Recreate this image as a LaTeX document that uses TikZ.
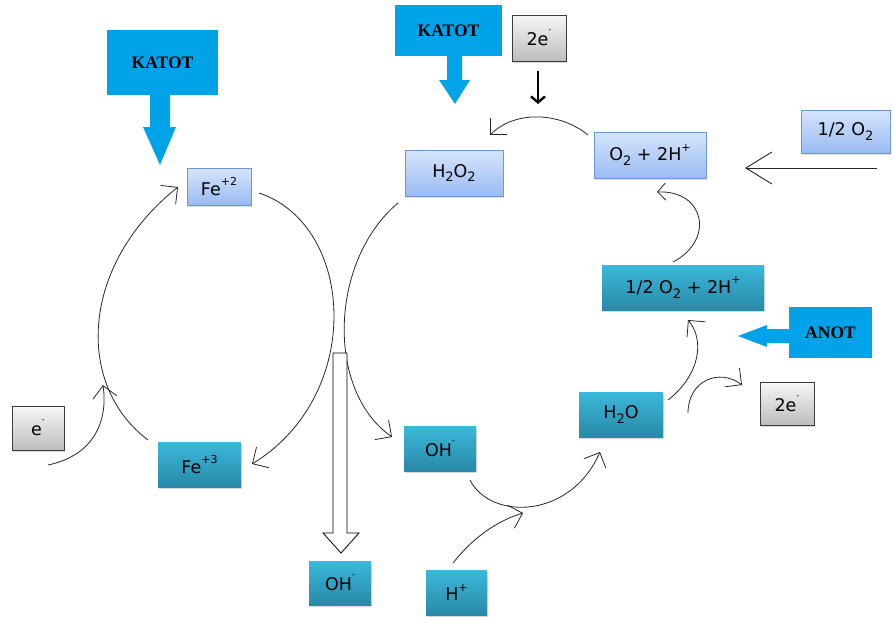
\documentclass[tikz,border=0pt]{standalone}
\usepackage{fontspec}
\setmainfont{DejaVu Sans}
\newfontfamily\katfont{Liberation Serif}
\usetikzlibrary{arrows.meta,shadows}
\definecolor{lbtop}{HTML}{D6E5FC}
\definecolor{lbbot}{HTML}{99BBF2}
\definecolor{lbline}{HTML}{6C95DA}
\definecolor{tltop}{HTML}{3CB8DA}
\definecolor{tlbot}{HTML}{2989A8}
\definecolor{grtop}{HTML}{F7F7F7}
\definecolor{grbot}{HTML}{BDBDBD}
\definecolor{grline}{HTML}{3C3C3C}
\definecolor{katblue}{HTML}{00A2E8}
\newcommand\sbs[1]{\raisebox{-0.28em}{\fontsize{13}{13}\selectfont #1}}
\newcommand\sps[1]{\raisebox{0.55em}{\fontsize{11}{11}\selectfont #1}}
\newcommand\tsp[1]{\raisebox{0.75em}{\fontsize{8}{8}\selectfont #1}}
\begin{document}
\begin{tikzpicture}[x=1pt,y=-1pt,
  base/.style={inner sep=0pt, align=center, font=\fontsize{17.5}{17.5}\selectfont},
  lightbox/.style={base, draw=lbline, line width=0.8pt, top color=lbtop, bottom color=lbbot,
     drop shadow={shadow xshift=1pt, shadow yshift=-1.5pt, opacity=0.25}},
  tealbox/.style={base, top color=tltop, bottom color=tlbot,
     drop shadow={shadow xshift=1pt, shadow yshift=-2pt, opacity=0.3}},
  graybox/.style={base, draw=grline, line width=0.8pt, top color=grtop, bottom color=grbot,
     drop shadow={shadow xshift=1pt, shadow yshift=-1.5pt, opacity=0.3}},
  katbox/.style={inner sep=0pt, fill=katblue, font=\katfont\bfseries\fontsize{17.5}{17.5}\selectfont},
  bluearrow/.style={fill=katblue},
  conn/.style={draw=black!85, line width=0.8pt, -{Straight Barb[length=12pt,width=24pt]}},
  connsmall/.style={draw=black!85, line width=0.8pt, -{Straight Barb[length=8pt,width=17pt]}},
  connbig/.style={draw=black!85, line width=0.9pt, -{Straight Barb[length=26pt,width=32pt]}}
]
\useasboundingbox (0,0) rectangle (893,621);

% blue KATOT / ANOT blocks
\node[katbox, minimum width=111pt, minimum height=65pt] (kat1) at (162.5,62.5) {KATOT};
\fill[bluearrow] (150,94) -- (170,94) -- (170,127) -- (176,127) -- (160,165) -- (143,127) -- (150,127) -- cycle;
\node[katbox, minimum width=107pt, minimum height=51pt] (kat2) at (448.5,30.5) {KATOT};
\fill[bluearrow] (447,55) -- (462,55) -- (462,80) -- (470,80) -- (455,104) -- (439,80) -- (447,80) -- cycle;
\node[katbox, minimum width=83pt, minimum height=51pt] (anot) at (830.5,332.5) {ANOT};
\fill[bluearrow] (790,329) -- (767,329) -- (767,325) -- (738,336) -- (767,347) -- (767,343) -- (790,343) -- cycle;

% boxes
\node[lightbox, minimum width=64pt, minimum height=37pt] (fe2) at (219,186.5) {Fe\sps{+2}};
\node[lightbox, minimum width=98pt, minimum height=46pt] (h2o2) at (454,173) {H\sbs{2}O\sbs{2}};
\node[lightbox, minimum width=112pt, minimum height=46pt] (o2h) at (650,155) {O\sbs{2} + 2H\sps{+}};
\node[lightbox, minimum width=89pt, minimum height=43pt] (halfo2) at (845.5,131.5) {1/2 O\sbs{2}};
\node[graybox, minimum width=54pt, minimum height=46pt] (e2top) at (539,38) {2e\tsp{-}};
\node[tealbox, minimum width=162pt, minimum height=45pt] (ho2h) at (683,287.5) {1/2 O\sbs{2} + 2H\sps{+}};
\node[tealbox, minimum width=84pt, minimum height=45pt] (h2o) at (621,414.5) {H\sbs{2}O};
\node[graybox, minimum width=54pt, minimum height=43pt] (e2r) at (787,403.5) {2e\tsp{-}};
\node[graybox, minimum width=52pt, minimum height=44pt] (em) at (38,428) {e\tsp{-}};
\node[tealbox, minimum width=83pt, minimum height=45pt] (fe3) at (199.5,464.5) {Fe\sps{+3}};
\node[tealbox, minimum width=72pt, minimum height=45pt] (ohm) at (440,448.5) {OH\tsp{-}};
\node[tealbox, minimum width=62pt, minimum height=44pt] (ohb) at (340,583) {OH\tsp{-}};
\node[tealbox, minimum width=61pt, minimum height=45pt] (hp) at (456.5,592.5) {H\sps{+}};

% free ends of connectors
\coordinate (c1s) at (588,135);   \coordinate (c1e) at (490,135);
\coordinate (c2s) at (398,203);   \coordinate (c2e) at (392,437);
\coordinate (c3s) at (259,193);   \coordinate (c3e) at (252,464);
\coordinate (c4s) at (148,440);   \coordinate (c4e) at (178,187);
\coordinate (c5s) at (48,465);    \coordinate (c5e) at (103,385);
\coordinate (c6s) at (470,480);   \coordinate (c6e) at (600,452);
\coordinate (c7s) at (453,563);   \coordinate (c7e) at (523,513);
\coordinate (c8s) at (668,400);   \coordinate (c8e) at (688,320);
\coordinate (c9s) at (688,413);   \coordinate (c9e) at (742,385);
\coordinate (c10s) at (673,262);  \coordinate (c10e) at (657,192);
\coordinate (c11s) at (877,168);  \coordinate (c11e) at (745,168);
\coordinate (c12s) at (538,71);   \coordinate (c12e) at (538,104);

% connectors
\draw[conn] (c1s) .. controls (560,112) and (515,110) .. (c1e);
\draw[conn] (c2s) .. controls (330,260) and (325,390) .. (c2e);
\draw[conn] (c3s) .. controls (355,225) and (365,395) .. (c3e);
\draw[conn] (c4s) .. controls (75,385) and (80,265) .. (c4e);
\draw[conn] (c5s) .. controls (95,455) and (108,420) .. (c5e);
\draw[conn] (c6s) .. controls (490,520) and (570,520) .. (c6e);
\draw[conn] (c7s) .. controls (475,535) and (500,520) .. (c7e);
\draw[conn] (c8s) .. controls (700,375) and (705,340) .. (c8e);
\draw[conn] (c9s) .. controls (688,380) and (720,368) .. (c9e);
\draw[connsmall] (c10s) .. controls (715,240) and (705,190) .. (c10e);
\draw[connbig] (c11s) -- (c11e);
\draw[line width=2.4pt, -{Straight Barb[length=6pt,width=14pt]}] (c12s) -- (c12e);

% hollow arrow down to OH-
\draw[fill=white, line width=0.8pt] (333,353) -- (347,353) -- (347,533) -- (359,533) -- (341,553) -- (323,533) -- (333,533) -- cycle;
\end{tikzpicture}
\end{document}
